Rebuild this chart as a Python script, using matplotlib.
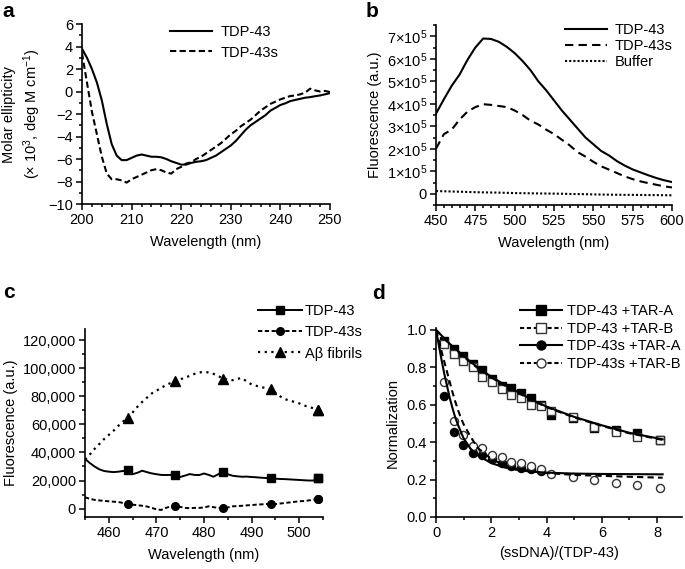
import numpy as np
import matplotlib
matplotlib.use("Agg")
import matplotlib.pyplot as plt
from matplotlib.lines import Line2D
from matplotlib.ticker import MultipleLocator

plt.rcParams['font.family'] = ['Liberation Sans', 'DejaVu Sans']
plt.rcParams['mathtext.fontset'] = 'custom'
plt.rcParams['mathtext.rm'] = 'Liberation Sans'
plt.rcParams['mathtext.it'] = 'Liberation Sans:italic'
plt.rcParams['font.size'] = 10

# ---- panel a: CD spectra ----
cd_wavelength = list(range(200, 251))
cd_tdp43 = [3.8, 3.0, 2.0, 0.8, -0.8, -2.9, -4.7, -5.7, -6.1, -6.1,
            -5.9, -5.7, -5.6, -5.7, -5.8, -5.8, -5.85, -6.0, -6.2, -6.35,
            -6.5, -6.5, -6.35, -6.25, -6.2, -6.1, -5.9, -5.7, -5.4, -5.1,
            -4.8, -4.4, -3.9, -3.4, -3.0, -2.7, -2.4, -2.1, -1.7, -1.45,
            -1.2, -1.05, -0.85, -0.75, -0.65, -0.55, -0.5, -0.42, -0.35, -0.25,
            -0.15]
cd_tdp43s = [3.4, 0.8, -1.8, -3.8, -5.8, -7.3, -7.8, -7.8, -7.9, -8.1,
             -7.8, -7.6, -7.4, -7.2, -7.0, -6.9, -7.0, -7.2, -7.3, -6.9,
             -6.7, -6.4, -6.3, -6.0, -5.8, -5.5, -5.2, -4.9, -4.6, -4.2,
             -3.8, -3.5, -3.1, -2.8, -2.5, -2.1, -1.7, -1.4, -1.1, -0.9,
             -0.7, -0.55, -0.4, -0.35, -0.25, -0.1, 0.25, 0.1, 0.0, 0.05,
             -0.05]

# ---- panel b: intrinsic fluorescence (x 1e5) ----
fl_wavelength = list(range(450, 601, 5))
fl_tdp43 = [3.56, 4.2, 4.8, 5.3, 5.95, 6.5, 6.9, 6.88, 6.75, 6.53,
            6.25, 5.9, 5.5, 5.0, 4.6, 4.15, 3.7, 3.3, 2.9, 2.5,
            2.2, 1.9, 1.7, 1.45, 1.25, 1.08, 0.95, 0.82, 0.7, 0.6, 0.52]
fl_tdp43s = [2.0, 2.65, 2.85, 3.3, 3.65, 3.85, 3.98, 3.95, 3.9, 3.85,
             3.7, 3.5, 3.25, 3.08, 2.85, 2.65, 2.4, 2.15, 1.85, 1.65,
             1.42, 1.22, 1.07, 0.92, 0.77, 0.65, 0.55, 0.47, 0.4, 0.33, 0.28]
fl_buffer = [0.12, 0.11, 0.1, 0.09, 0.08, 0.07, 0.06, 0.055, 0.05, 0.04,
             0.03, 0.025, 0.02, 0.015, 0.01, 0.005, 0.0, -0.01, -0.015, -0.02,
             -0.03, -0.035, -0.04, -0.045, -0.05, -0.05, -0.055, -0.06, -0.06,
             -0.065, -0.07]
fl_yticklabels = ['0'] + [r'%d×10$^5$' % i for i in range(1, 8)]

# ---- panel c: ThT fluorescence ----
tht_wavelength = list(range(455, 505))
tht_marker_x = [464, 474, 484, 494, 504]
tht_tdp43 = [35500, 32500, 30000, 28000, 26800, 26300, 26000, 26300, 26800, 27400,
             24500, 25500, 27000, 26000, 25100, 24500, 24000, 23900, 24000, 24150,
             22500, 23500, 24600, 24000, 23900, 25000, 24000, 22700, 24500, 26300,
             24500, 23400, 23000, 22700, 22800, 22500, 22300, 22000, 21800, 21600,
             21300, 21100, 21000, 20800, 20600, 20400, 20200, 20000, 20000, 21500]
tht_tdp43s = [8000, 7000, 6200, 5800, 5500, 5200, 4900, 4700, 4000, 3500,
              2800, 2400, 2000, 1500, 500, -500, -1000, 500, 1500, 1900,
              1200, 500, 300, 500, 500, 800, 1600, 1000, 500, 200,
              800, 1600, 1800, 2000, 2300, 2500, 2800, 3000, 3200, 3500,
              3200, 3600, 4000, 4400, 4800, 5200, 5400, 5800, 6400, 7000]
tht_abeta = [35000, 38500, 42500, 46000, 49500, 52500, 55500, 59000, 62000, 64500,
             68500, 72500, 76000, 79000, 82000, 84000, 86000, 88000, 89500, 90700,
             92000, 93500, 94500, 96000, 97000, 97500, 97000, 96000, 94500, 92600,
             92000, 91500, 92500, 93000, 90500, 88500, 87500, 86500, 86000, 85100,
             82500, 80000, 78000, 77000, 76000, 75000, 73500, 72500, 71500, 70300]
tht_ytick_values = [0, 20000, 40000, 60000, 80000, 100000, 120000]
tht_yticklabels = ['0', '20,000', '40,000', '60,000', '80,000', '100,000', '120,000']

# ---- panel d: ssDNA titration ----
ratio = [0.28, 0.64, 0.98, 1.34, 1.68, 2.02, 2.37, 2.73, 3.08, 3.44, 3.80,
         4.17, 4.95, 5.72, 6.51, 7.29, 8.10]
tdp43_tar_a = [0.94, 0.90, 0.86, 0.815, 0.785, 0.74, 0.70, 0.69, 0.66, 0.635,
               0.60, 0.545, 0.53, 0.475, 0.465, 0.45, 0.41]
tdp43_tar_b = [0.925, 0.87, 0.835, 0.80, 0.75, 0.72, 0.685, 0.65, 0.635, 0.598,
               0.594, 0.565, 0.535, 0.483, 0.456, 0.426, 0.412]
ratio_short = ratio[:11]
tdp43s_tar_a = [0.645, 0.455, 0.385, 0.343, 0.33, 0.31, 0.29, 0.275, 0.26,
                0.255, 0.245]
tdp43s_tar_b = [0.72, 0.515, 0.44, 0.38, 0.37, 0.33, 0.32, 0.295, 0.287, 0.272,
                0.255, 0.228, 0.212, 0.198, 0.18, 0.171, 0.157]

fit_x_slow = [0, 0.5, 1, 1.5, 2, 2.5, 3, 3.5, 4, 5, 6, 7, 8.2]
fit_tdp43_a = [1.0, 0.925, 0.86, 0.80, 0.75, 0.705, 0.665, 0.625, 0.59, 0.535,
               0.49, 0.45, 0.415]
fit_tdp43_b = [1.0, 0.922, 0.856, 0.797, 0.746, 0.701, 0.661, 0.622, 0.587, 0.532,
               0.487, 0.447, 0.412]
fit_x_fast = [0, 0.1, 0.2, 0.3, 0.4, 0.5, 0.6, 0.7, 0.8, 0.9, 1.0, 1.25, 1.5,
              2.0, 2.5, 3.0, 3.5, 4.0, 5.0, 6.0, 7.0, 8.2]
fit_tdp43s_a = [1.0, 0.92, 0.84, 0.765, 0.70, 0.635, 0.58, 0.53, 0.49, 0.455,
                0.42, 0.365, 0.33, 0.288, 0.264, 0.25, 0.242, 0.237, 0.232,
                0.23, 0.229, 0.228]
fit_tdp43s_b = [1.0, 0.945, 0.885, 0.83, 0.775, 0.72, 0.665, 0.615, 0.57, 0.53,
                0.495, 0.43, 0.37, 0.31, 0.275, 0.255, 0.243, 0.235, 0.225,
                0.22, 0.215, 0.21]


def px_ax(fig, left, top, right, bottom):
    W, H = 685.0, 569.0
    return fig.add_axes([left / W, 1 - bottom / H, (right - left) / W, (bottom - top) / H])


def style_axes(ax):
    for side in ('top', 'right'):
        ax.spines[side].set_visible(False)
    for side in ('left', 'bottom'):
        ax.spines[side].set_linewidth(1.2)
    ax.tick_params(which='both', direction='out', width=1.1, labelsize=10.5, pad=2)
    ax.tick_params(which='major', length=4.5)
    ax.tick_params(which='minor', length=2.5)


def fig_legend(ax, handles, labels, x, y, **kw):
    ax.legend(handles, labels, loc='upper left', bbox_to_anchor=(x / 685.0, 1 - y / 569.0),
              bbox_transform=fig.transFigure, frameon=False, borderpad=0,
              borderaxespad=0, fontsize=10.5, **kw)


fig = plt.figure(figsize=(6.85, 5.69), dpi=100)

# panel a
ax_a = px_ax(fig, 82, 24, 330, 204)
ha1, = ax_a.plot(cd_wavelength, cd_tdp43, color='black', lw=1.5)
ha2, = ax_a.plot(cd_wavelength, cd_tdp43s, color='black', lw=1.5, ls=(0, (3, 1.6)))
ax_a.set_xlim(200, 250)
ax_a.set_ylim(-10, 6)
ax_a.xaxis.set_major_locator(MultipleLocator(10))
ax_a.xaxis.set_minor_locator(MultipleLocator(2))
ax_a.yaxis.set_minor_locator(MultipleLocator(1))
ax_a.set_yticks(range(-10, 7, 2))
ax_a.set_yticklabels([str(v).replace('-', '\u2212') for v in range(-10, 7, 2)])
style_axes(ax_a)
ax_a.set_xlabel('Wavelength (nm)', fontsize=10.5, labelpad=6)
ax_a.set_ylabel('Molar ellipticity\n(× 10$^{3}$, deg M cm$^{\u22121}$)', fontsize=10.5,
                labelpad=4, linespacing=1.3)
fig_legend(ax_a, [ha1, ha2], ['TDP-43', 'TDP-43s'], 170, 25,
           handlelength=2.9, handletextpad=0.55, labelspacing=0.45)

# panel b
ax_b = px_ax(fig, 436, 25, 672, 205)
fl_x = np.array(fl_wavelength)
hb1, = ax_b.plot(fl_x, np.array(fl_tdp43) * 1e5, color='black', lw=1.5)
hb2, = ax_b.plot(fl_x, np.array(fl_tdp43s) * 1e5, color='black', lw=1.5, ls=(0, (4, 2.5)))
hb3, = ax_b.plot(fl_x, np.array(fl_buffer) * 1e5, color='black', lw=1.5, ls=(0, (1, 1)))
ax_b.set_xlim(450, 600)
ax_b.set_ylim(-0.5e5, 7.5e5)
ax_b.xaxis.set_major_locator(MultipleLocator(25))
ax_b.xaxis.set_minor_locator(MultipleLocator(5))
ax_b.set_yticks([i * 1e5 for i in range(8)])
ax_b.set_yticklabels(fl_yticklabels)
ax_b.yaxis.set_minor_locator(MultipleLocator(0.5e5))
style_axes(ax_b)
ax_b.set_xlabel('Wavelength (nm)', fontsize=10.5, labelpad=6)
ax_b.set_ylabel('Fluorescence (a.u.)', fontsize=10.5, labelpad=3)
fig_legend(ax_b, [hb1, hb2, hb3], ['TDP-43', 'TDP-43s', 'Buffer'], 565, 23,
           handlelength=2.9, handletextpad=0.5, labelspacing=0.15)

# panel c
ax_c = px_ax(fig, 85, 329, 323, 517)
mk = [tht_wavelength.index(m) for m in tht_marker_x if m in tht_wavelength]
mk.append(len(tht_wavelength) - 1)
hc1, = ax_c.plot(tht_wavelength, tht_tdp43, color='black', lw=1.4, marker='s', ms=5.5,
                 markevery=mk)
hc2, = ax_c.plot(tht_wavelength, tht_tdp43s, color='black', lw=1.4, ls=(0, (2.2, 1.3)),
                 marker='o', ms=5.5, markevery=mk)
hc3, = ax_c.plot(tht_wavelength, tht_abeta, color='black', lw=1.6, ls=(0, (1, 2)),
                 marker='^', ms=6.5, markevery=mk)
ax_c.set_xlim(455, 505)
ax_c.set_ylim(-6000, 128000)
ax_c.xaxis.set_major_locator(MultipleLocator(10))
ax_c.xaxis.set_minor_locator(MultipleLocator(5))
ax_c.set_yticks(tht_ytick_values)
ax_c.set_yticklabels(tht_yticklabels)
ax_c.yaxis.set_minor_locator(MultipleLocator(10000))
style_axes(ax_c)
ax_c.set_xlabel('Wavelength (nm)', fontsize=10.5, labelpad=6)
ax_c.set_ylabel('Fluorescence (a.u.)', fontsize=10.5, labelpad=3)
fig_legend(ax_c, [hc1, hc2, hc3], ['TDP-43', 'TDP-43s', 'Aβ fibrils'], 258, 304,
           handlelength=3.0, handletextpad=0.2, labelspacing=0.5)

# panel d
ax_d = px_ax(fig, 436, 328, 682, 517)
ax_d.plot(ratio, tdp43_tar_a, ls='none', marker='s', ms=5.2, mfc='black', mec='black', zorder=2)
ax_d.plot(ratio_short, tdp43s_tar_a, ls='none', marker='o', ms=5.8, mfc='black', mec='black', zorder=2)
ax_d.plot(ratio, tdp43_tar_b, ls='none', marker='s', ms=5.2, mfc='white', mec='#333333', mew=1.0, zorder=3)
ax_d.plot(ratio, tdp43s_tar_b, ls='none', marker='o', ms=5.8, mfc='white', mec='#333333', mew=1.0, zorder=3)
ax_d.plot(fit_x_slow, fit_tdp43_b, color='black', lw=1.5, ls=(0, (3, 2)), zorder=4)
ax_d.plot(fit_x_slow, fit_tdp43_a, color='black', lw=1.5, zorder=5)
ax_d.plot(fit_x_fast, fit_tdp43s_b, color='black', lw=1.5, ls=(0, (3, 2)), zorder=4)
ax_d.plot(fit_x_fast, fit_tdp43s_a, color='black', lw=1.5, zorder=5)
ax_d.set_xlim(0, 8.9)
ax_d.set_ylim(0, 1.01)
ax_d.xaxis.set_major_locator(MultipleLocator(2))
ax_d.xaxis.set_minor_locator(MultipleLocator(1))
ax_d.set_yticks([0, 0.2, 0.4, 0.6, 0.8, 1.0])
ax_d.set_yticklabels(['0.0', '0.2', '0.4', '0.6', '0.8', '1.0'])
ax_d.yaxis.set_minor_locator(MultipleLocator(0.1))
style_axes(ax_d)
ax_d.set_xlabel('(ssDNA)/(TDP-43)', fontsize=10.5, labelpad=4)
ax_d.set_ylabel('Normalization', fontsize=10.5, labelpad=5)
hd = [Line2D([], [], color='black', lw=1.5, marker='s', ms=6.5, mfc='black'),
      Line2D([], [], color='black', lw=1.5, ls=(0, (2, 1.3)), marker='s', ms=6.5, mfc='white', mec='#333333'),
      Line2D([], [], color='black', lw=1.5, marker='o', ms=6.5, mfc='black'),
      Line2D([], [], color='black', lw=1.5, ls=(0, (2, 1.3)), marker='o', ms=6.5, mfc='white', mec='#333333')]
fig_legend(ax_d, hd, ['TDP-43 +TAR-A', 'TDP-43 +TAR-B', 'TDP-43s +TAR-A', 'TDP-43s +TAR-B'],
           520, 304, handlelength=2.9, handletextpad=0.3, labelspacing=0.25)

# panel letters
for letter, x, y in [('a', 2, 2), ('b', 366, 2), ('c', 3, 283), ('d', 372, 284)]:
    fig.text(x / 685.0, 1 - y / 569.0, letter, fontsize=15, fontweight='bold',
             va='top', ha='left')

fig.savefig('out.png', dpi=100)
